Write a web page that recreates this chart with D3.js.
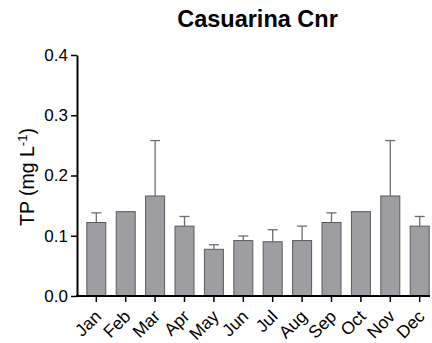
<!DOCTYPE html>
<html>
<head>
<meta charset="utf-8">
<script src="https://cdn.jsdelivr.net/npm/d3@7"></script>
<style>
  html, body { margin: 0; padding: 0; background: #fff; }
  svg { display: block; font-family: "Liberation Sans", Arial, sans-serif; }
</style>
</head>
<body>
<svg id="chart" width="432" height="343"></svg>
<script>
// Monthly total phosphorus at Casuarina Cnr (mean and SD)
const months = ["Jan", "Feb", "Mar", "Apr", "May", "Jun", "Jul", "Aug", "Sep", "Oct", "Nov", "Dec"];
const tpMean = [0.122, 0.140, 0.166, 0.116, 0.0775, 0.092, 0.090, 0.092, 0.122, 0.140, 0.166, 0.116];
const tpSD   = [0.016, 0.000, 0.092, 0.016, 0.0075, 0.0076, 0.020, 0.024, 0.016, 0.000, 0.092, 0.016];
const yTicks = [0.0, 0.1, 0.2, 0.3, 0.4];

const svg = d3.select("#chart");

const axisX = 77, axisRight = 430;
const y = d3.scaleLinear().domain([0, 0.4]).range([296, 55]);
const x = d3.scaleBand().domain(months).range([81.6, 434.4])
  .paddingInner(0.32).paddingOuter(0.16);

// Title
svg.append("text")
  .attr("x", 257.5).attr("y", 27)
  .attr("text-anchor", "middle")
  .attr("font-weight", "bold")
  .attr("font-size", 23.5)
  .attr("fill", "#000")
  .text("Casuarina Cnr");

// Bars
svg.append("g").selectAll("rect")
  .data(months)
  .join("rect")
  .attr("x", d => x(d) + 0.5)
  .attr("y", (d, i) => y(tpMean[i]))
  .attr("width", x.bandwidth() - 1)
  .attr("height", (d, i) => y(0) - y(tpMean[i]))
  .attr("fill", "#9e9da2")
  .attr("stroke", "#5a5a5e")
  .attr("stroke-width", 1);

// Error bars (upper half only)
const err = svg.append("g").attr("stroke", "#6e6e72").attr("stroke-width", 1.3);
months.forEach((m, i) => {
  if (tpSD[i] <= 0) return;
  const cx = x(m) + x.bandwidth() / 2;
  err.append("line")
    .attr("x1", cx).attr("x2", cx)
    .attr("y1", y(tpMean[i])).attr("y2", y(tpMean[i] + tpSD[i]));
  err.append("line")
    .attr("x1", cx - 5).attr("x2", cx + 5)
    .attr("y1", y(tpMean[i] + tpSD[i])).attr("y2", y(tpMean[i] + tpSD[i]));
});

// Y axis
const gy = svg.append("g")
  .attr("transform", `translate(${axisX},0)`)
  .call(d3.axisLeft(y).tickValues(yTicks).tickFormat(d3.format(".1f")).tickSize(6).tickSizeOuter(0).tickPadding(3));
gy.select(".domain").attr("stroke", "#000").attr("stroke-width", 2);
gy.selectAll(".tick line").attr("stroke", "#000").attr("stroke-width", 1.5);
gy.selectAll(".tick text").attr("font-size", 17).attr("fill", "#000")
  .attr("font-family", "Liberation Sans, Arial, sans-serif");

// X axis
const gx = svg.append("g")
  .attr("transform", `translate(0,${y(0)})`)
  .call(d3.axisBottom(x).tickSize(6).tickSizeOuter(0));
gx.select(".domain").remove();
gx.append("line")
  .attr("x1", axisX - 1).attr("x2", axisRight)
  .attr("stroke", "#000").attr("stroke-width", 2);
gx.selectAll(".tick line").attr("stroke", "#000").attr("stroke-width", 1.5);
gx.selectAll(".tick text")
  .attr("font-size", 17.5).attr("fill", "#000")
  .attr("font-family", "Liberation Sans, Arial, sans-serif")
  .attr("text-anchor", "end")
  .attr("dy", null)
  .attr("y", 0)
  .attr("transform", "translate(6,21.5) rotate(-45)");

// Y axis title
const yt = svg.append("text")
  .attr("transform", "translate(34,177) rotate(-90)")
  .attr("text-anchor", "middle")
  .attr("font-size", 19.5)
  .attr("fill", "#000");
yt.append("tspan").text("TP (mg L");
yt.append("tspan").attr("baseline-shift", "super").attr("font-size", 13).text("-1");
yt.append("tspan").text(")");
</script>
</body>
</html>
